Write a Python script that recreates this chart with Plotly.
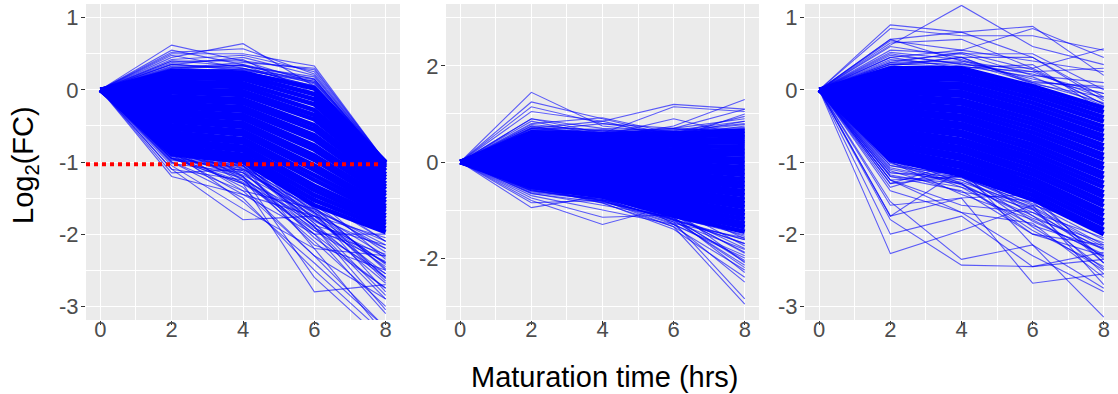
import plotly.graph_objects as go

TIMES = [0, 2, 4, 6, 8]

# ---- Panel 1: values at t = 2, 4, 6, 8 (t = 0 is 0) ----
P1_CORE = [
    [0.26, 0.24, 0.02, -1.00], [0.21, 0.20, -0.06, -1.02], [0.16, 0.15, -0.13, -1.05],
    [0.11, 0.09, -0.20, -1.08], [0.06, 0.04, -0.28, -1.12], [0.01, -0.02, -0.35, -1.17],
    [-0.04, -0.07, -0.41, -1.21], [-0.09, -0.13, -0.49, -1.25], [-0.14, -0.18, -0.55, -1.30],
    [-0.19, -0.24, -0.63, -1.34], [-0.24, -0.29, -0.69, -1.38], [-0.29, -0.35, -0.77, -1.43],
    [-0.34, -0.40, -0.83, -1.47], [-0.39, -0.46, -0.91, -1.52], [-0.44, -0.51, -0.97, -1.56],
    [-0.49, -0.57, -1.05, -1.61], [-0.54, -0.62, -1.11, -1.65], [-0.59, -0.68, -1.19, -1.69],
    [-0.64, -0.73, -1.25, -1.74], [-0.69, -0.79, -1.33, -1.78], [-0.74, -0.84, -1.39, -1.83],
    [-0.79, -0.90, -1.46, -1.87], [-0.84, -0.95, -1.53, -1.92], [-0.89, -1.00, -1.60, -1.97],
]
P1_SPREAD = [
    [0.62, 0.40, 0.10, -1.00], [0.52, 0.57, 0.22, -1.00], [0.55, 0.35, 0.15, -1.00],
    [0.45, 0.64, 0.05, -1.00], [0.50, 0.50, 0.33, -1.00], [0.40, 0.40, 0.28, -1.00],
    [0.35, 0.45, 0.20, -1.00], [0.48, 0.30, 0.12, -1.00], [0.30, 0.38, 0.30, -1.00],
    [0.42, 0.48, 0.25, -1.00], [0.35, 0.30, 0.05, -1.00], [0.30, 0.35, 0.08, -1.05],
    [0.38, 0.42, -0.05, -1.00], [0.33, 0.33, 0.15, -1.02], [0.28, 0.28, 0.10, -1.00],
    [0.32, 0.30, 0.05, -1.00], [0.36, 0.27, 0.12, -1.00], [0.29, 0.34, 0.00, -1.00],
    [0.40, 0.33, 0.18, -1.00], [0.27, 0.29, 0.14, -1.00], [0.31, 0.25, 0.06, -1.01],
    [-1.20, -1.45, -1.75, -2.60], [-1.10, -1.80, -1.75, -2.40], [-1.05, -1.65, -2.20, -3.40],
    [-1.00, -1.40, -2.30, -3.30], [-0.95, -1.30, -2.80, -2.70], [-0.90, -1.20, -2.60, -3.50],
    [-1.00, -1.50, -2.50, -3.40], [-0.85, -1.35, -2.30, -2.90], [-0.80, -1.25, -2.10, -3.00],
    [-0.90, -1.45, -2.00, -2.75], [-0.70, -1.15, -1.90, -2.90], [-0.75, -1.20, -2.15, -2.50],
    [-0.95, -1.30, -1.80, -2.40], [-0.60, -1.10, -1.70, -2.80], [-1.10, -1.25, -2.00, -3.10],
    [-0.85, -1.55, -2.40, -3.30], [-0.50, -1.00, -1.90, -2.60], [-0.65, -1.05, -2.20, -2.30],
    [-0.80, -1.40, -1.65, -2.20], [-0.70, -1.30, -1.95, -2.55], [-0.40, -0.90, -1.80, -2.45],
    [-1.15, -1.10, -1.50, -2.10], [-0.95, -1.05, -1.90, -3.05], [-0.55, -1.20, -2.00, -2.00],
    [-0.60, -0.95, -1.70, -2.30], [-0.50, -0.85, -1.65, -2.15], [-0.45, -0.80, -1.60, -2.25],
    [-0.30, -0.70, -1.50, -2.35], [-0.20, -0.60, -1.45, -2.10], [-0.88, -1.10, -1.72, -2.65],
    [-0.75, -1.05, -1.85, -2.85], [-0.92, -1.15, -1.62, -2.50], [-0.65, -1.25, -1.75, -2.05],
    [-0.92, -1.05, -1.68, -2.10], [-0.95, -1.12, -1.75, -2.20], [-0.98, -1.08, -1.82, -2.32],
    [-0.90, -1.18, -1.70, -2.42], [-0.96, -1.22, -1.88, -2.15], [-1.02, -1.15, -1.95, -2.28],
    [-0.86, -1.02, -1.78, -2.55], [-0.93, -1.28, -1.92, -2.38], [-0.82, -0.98, -1.64, -2.48],
    [-0.97, -1.06, -1.66, -2.62], [-0.88, -1.12, -2.05, -2.75], [-0.78, -1.00, -1.85, -2.68],
]

# ---- Panel 2 ----
P2_CORE = [
    [0.62, 0.58, 0.60, 0.65], [0.57, 0.53, 0.53, 0.57], [0.53, 0.48, 0.46, 0.48],
    [0.48, 0.42, 0.40, 0.40], [0.44, 0.37, 0.33, 0.31], [0.39, 0.32, 0.26, 0.23],
    [0.35, 0.27, 0.19, 0.15], [0.30, 0.22, 0.12, 0.06], [0.26, 0.16, 0.05, -0.02],
    [0.21, 0.11, -0.02, -0.11], [0.16, 0.06, -0.09, -0.19], [0.12, 0.01, -0.16, -0.27],
    [0.07, -0.04, -0.23, -0.36], [0.03, -0.10, -0.30, -0.44], [-0.02, -0.15, -0.37, -0.52],
    [-0.07, -0.20, -0.43, -0.61], [-0.11, -0.25, -0.50, -0.69], [-0.16, -0.30, -0.57, -0.78],
    [-0.20, -0.36, -0.64, -0.86], [-0.25, -0.41, -0.71, -0.94], [-0.30, -0.46, -0.78, -1.03],
    [-0.34, -0.51, -0.85, -1.11], [-0.39, -0.56, -0.92, -1.19], [-0.43, -0.62, -0.98, -1.28],
    [-0.48, -0.67, -1.05, -1.36], [-0.52, -0.72, -1.12, -1.45],
]
P2_SPREAD = [
    [1.45, 0.75, 0.60, 0.50], [1.25, 0.90, 0.55, 0.40], [1.15, 0.80, 0.60, 0.70],
    [1.05, 0.85, 1.20, 1.10], [0.90, 0.60, 1.15, 1.05], [0.85, 0.55, 0.90, 0.55],
    [0.80, 0.92, 0.60, 0.95], [0.75, 0.50, 0.75, 1.30], [0.70, 0.85, 0.50, 1.00],
    [0.65, 0.80, 0.70, 0.90], [0.90, 0.70, 0.65, 0.80], [0.70, 0.60, 0.70, 1.10],
    [0.75, 0.65, 0.55, 0.75], [0.68, 0.62, 0.66, 0.85],
    [0.66, 0.62, 0.64, 0.72], [0.72, 0.60, 0.68, 0.68], [0.64, 0.66, 0.62, 0.78],
    [0.78, 0.64, 0.70, 0.62], [0.70, 0.68, 0.58, 0.85],
    [-0.95, -0.70, -1.00, -1.30], [-0.80, -1.30, -0.90, -1.60], [-0.75, -1.15, -1.10, -1.80],
    [-0.70, -1.00, -1.30, -2.00], [-0.60, -0.80, -1.35, -2.96], [-0.55, -0.75, -1.25, -2.85],
    [-0.50, -0.85, -1.40, -2.40], [-0.45, -0.70, -1.20, -2.20], [-0.65, -0.90, -1.15, -2.30],
    [-0.40, -0.60, -1.10, -1.90], [-0.30, -0.65, -1.00, -2.10], [-0.35, -0.55, -1.20, -1.70],
    [-0.20, -0.50, -0.95, -1.75], [-0.50, -0.75, -1.05, -1.55], [-0.85, -0.80, -0.95, -1.40],
    [-0.25, -0.40, -1.30, -2.50], [-0.58, -0.78, -1.22, -1.62], [-0.45, -0.82, -1.18, -2.05],
    [-0.55, -0.74, -1.15, -1.52], [-0.60, -0.78, -1.20, -1.62], [-0.58, -0.82, -1.18, -1.70],
    [-0.62, -0.76, -1.25, -1.82], [-0.54, -0.80, -1.30, -1.95], [-0.66, -0.84, -1.16, -2.08],
    [-0.57, -0.72, -1.22, -2.15], [-0.52, -0.86, -1.35, -2.25], [-0.64, -0.78, -1.28, -1.58],
    [-0.60, -0.70, -1.12, -1.88],
]

# ---- Panel 3 ----
P3_CORE = [
    [0.30, 0.30, 0.05, -0.25], [0.25, 0.25, -0.01, -0.31], [0.21, 0.19, -0.06, -0.38],
    [0.16, 0.14, -0.12, -0.44], [0.11, 0.08, -0.18, -0.51], [0.06, 0.03, -0.24, -0.57],
    [0.02, -0.03, -0.30, -0.64], [-0.03, -0.08, -0.35, -0.70], [-0.08, -0.14, -0.41, -0.77],
    [-0.12, -0.19, -0.47, -0.83], [-0.17, -0.25, -0.53, -0.90], [-0.22, -0.30, -0.59, -0.96],
    [-0.27, -0.36, -0.65, -1.03], [-0.31, -0.41, -0.70, -1.09], [-0.36, -0.47, -0.76, -1.16],
    [-0.41, -0.52, -0.82, -1.22], [-0.45, -0.58, -0.88, -1.29], [-0.50, -0.63, -0.94, -1.35],
    [-0.55, -0.69, -0.99, -1.42], [-0.60, -0.74, -1.05, -1.48], [-0.64, -0.80, -1.11, -1.55],
    [-0.69, -0.85, -1.17, -1.61], [-0.74, -0.91, -1.23, -1.68], [-0.78, -0.96, -1.29, -1.74],
    [-0.83, -1.02, -1.34, -1.81], [-0.88, -1.07, -1.40, -1.87], [-0.92, -1.13, -1.46, -1.94],
    [-0.97, -1.18, -1.52, -2.00],
]
P3_SPREAD = [
    [0.62, 1.17, 0.60, 0.35], [0.90, 0.80, 0.88, 0.20], [0.85, 0.75, 0.75, 0.55],
    [0.70, 0.80, 0.45, -0.10], [0.68, 0.55, 0.85, 0.45], [0.65, 0.70, 0.30, 0.57],
    [0.55, 0.50, 0.50, 0.00], [0.45, 0.55, 0.40, 0.25], [0.50, 0.35, 0.30, -0.20],
    [0.40, 0.50, 0.20, 0.10], [0.35, 0.45, 0.45, -0.15], [0.70, 0.40, 0.25, 0.30],
    [0.45, 0.30, 0.35, -0.30], [0.60, 0.45, 0.10, 0.05], [0.38, 0.40, 0.15, -0.05],
    [0.35, 0.38, 0.10, -0.18], [0.42, 0.33, 0.18, -0.22], [0.33, 0.45, 0.08, -0.10],
    [0.48, 0.36, 0.22, -0.05], [0.38, 0.52, 0.28, -0.20], [0.52, 0.42, 0.12, 0.02],
    [0.36, 0.32, 0.25, -0.12],
    [-2.27, -1.95, -1.60, -1.90], [-2.00, -1.75, -2.45, -2.35], [-1.80, -2.43, -2.45, -2.25],
    [-1.75, -1.50, -2.68, -2.55], [-1.55, -2.35, -2.15, -3.15], [-1.40, -1.70, -2.30, -2.80],
    [-1.30, -1.20, -1.90, -2.50], [-1.75, -1.10, -2.15, -2.75], [-1.60, -1.50, -1.45, -2.40],
    [-1.25, -1.70, -1.85, -2.60], [-1.20, -1.40, -2.00, -2.30], [-1.35, -1.05, -1.75, -2.20],
    [-1.10, -1.30, -1.95, -2.45], [-1.25, -1.60, -1.70, -2.05], [-1.00, -1.45, -1.80, -2.30],
    [-1.15, -1.20, -1.60, -2.70], [-0.90, -1.30, -2.00, -2.15], [-1.30, -1.00, -1.50, -2.35],
    [-1.05, -1.25, -1.65, -2.55], [-1.18, -1.35, -1.88, -2.20],
    [-1.02, -1.22, -1.58, -2.08], [-1.08, -1.28, -1.62, -2.15], [-1.15, -1.25, -1.70, -2.22],
    [-1.00, -1.35, -1.66, -2.32], [-1.20, -1.30, -1.78, -2.12], [-1.12, -1.42, -1.55, -2.40],
    [-1.05, -1.18, -1.82, -2.28], [-1.25, -1.20, -1.64, -2.18], [-0.98, -1.32, -1.74, -2.48],
]

# threshold line in panel 1
THRESH_Y = -1.03
THRESH_X = [-0.4, 7.8]

Y_TICKS_13 = [1, 0, -1, -2, -3]
Y_TEXT_13 = ["1", "0", "-1", "-2", "-3"]
Y_TICKS_2 = [2, 0, -2]
Y_TEXT_2 = ["2", "0", "-2"]
X_TICKS = [0, 2, 4, 6, 8]
X_TEXT = ["0", "2", "4", "6", "8"]

FONT = "Liberation Sans, Arial, sans-serif"
BLUE = "#0000FF"
BLUE_T = "rgba(0,0,255,0.62)"


def flatten(rows):
    xs, ys = [], []
    for r in rows:
        xs += TIMES + [None]
        ys += [0] + list(r) + [None]
    return xs, ys


fig = go.Figure()
panels = [(P1_SPREAD, P1_CORE, "x", "y"), (P2_SPREAD, P2_CORE, "x2", "y2"),
          (P3_SPREAD, P3_CORE, "x3", "y3")]
for spread, core, xa, ya in panels:
    xs, ys = flatten(core)
    fig.add_trace(go.Scatter(x=xs, y=ys, mode="lines", xaxis=xa, yaxis=ya,
                             line=dict(color=BLUE, width=4.6), hoverinfo="skip",
                             showlegend=False))
    xs, ys = flatten(spread)
    fig.add_trace(go.Scatter(x=xs, y=ys, mode="lines", xaxis=xa, yaxis=ya,
                             line=dict(color=BLUE_T, width=1.1), hoverinfo="skip",
                             showlegend=False))

fig.add_trace(go.Scatter(x=THRESH_X, y=[THRESH_Y, THRESH_Y], mode="lines",
                         xaxis="x", yaxis="y", hoverinfo="skip", showlegend=False,
                         line=dict(color="#FF0000", width=4, dash="dot")))

W, H = 1118, 394
ytop = 1 - 4 / H
ybot = 1 - 320 / H
doms = [(86 / W, 400 / W), (446 / W, 759 / W), (805 / W, 1.0)]

common_axis = dict(showgrid=True, gridcolor="white", gridwidth=1.2, zeroline=False,
                   showline=False, ticks="outside", ticklen=4, tickwidth=1,
                   tickcolor="#333333", tickfont=dict(family=FONT, size=22, color="#4D4D4D"),
                   tickmode="array")

layout = dict(width=W, height=H, margin=dict(l=0, r=0, t=0, b=0),
              paper_bgcolor="white", plot_bgcolor="#EBEBEB", showlegend=False,
              font=dict(family=FONT))
xnames = ["xaxis", "xaxis2", "xaxis3"]
ynames = ["yaxis", "yaxis2", "yaxis3"]
anchors_x = ["y", "y2", "y3"]
anchors_y = ["x", "x2", "x3"]
for i in range(3):
    layout[xnames[i]] = dict(common_axis, domain=list(doms[i]), anchor=anchors_x[i],
                             range=[-0.4, 8.4], tickvals=X_TICKS, ticktext=X_TEXT,
                             ticklabelstandoff=-14,
                             minor=dict(tickvals=[1, 3, 5, 7], showgrid=True,
                                        gridcolor="white", gridwidth=0.6, ticks=""))
    if i == 1:
        yv, yt, rng, mn = Y_TICKS_2, Y_TEXT_2, [-3.29, 3.29], [3, 1, -1, -3]
    else:
        yv, yt, rng, mn = Y_TICKS_13, Y_TEXT_13, [-3.19, 1.19], [0.5, -0.5, -1.5, -2.5]
    layout[ynames[i]] = dict(common_axis, domain=[ybot, ytop], anchor=anchors_y[i],
                             range=rng, tickvals=yv, ticktext=yt, ticklabelstandoff=-2,
                             minor=dict(tickvals=mn, showgrid=True, gridcolor="white",
                                        gridwidth=0.6, ticks=""))

fig.update_layout(**layout)

fig.add_annotation(text="Log<sub>2</sub>(FC)", xref="paper", yref="paper",
                   x=25 / W, y=1 - 165 / H, textangle=-90, showarrow=False,
                   font=dict(family=FONT, size=29, color="black"),
                   xanchor="center", yanchor="middle")
fig.add_annotation(text="Maturation time (hrs)", xref="paper", yref="paper",
                   x=605 / W, y=1 - 377 / H, showarrow=False,
                   font=dict(family=FONT, size=29, color="black"),
                   xanchor="center", yanchor="middle")

fig.write_html("out.html")
